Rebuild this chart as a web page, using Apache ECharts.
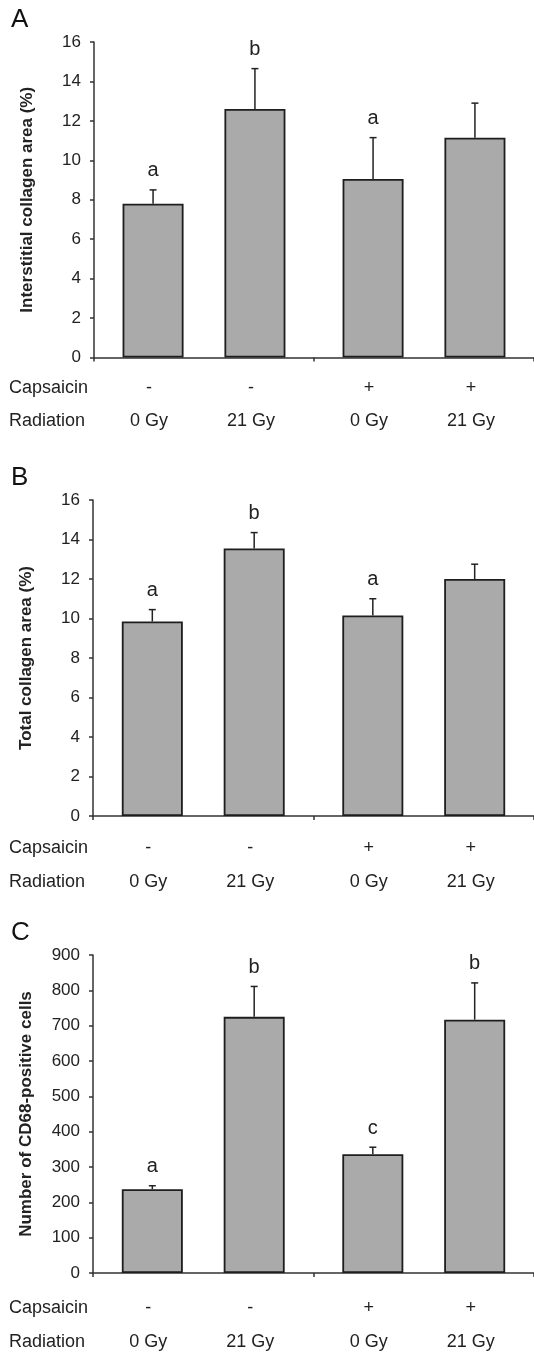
<!DOCTYPE html>
<html>
<head>
<meta charset="UTF-8">
<script src="https://cdn.jsdelivr.net/npm/echarts@6/dist/echarts.min.js"></script>
<style>
  html, body { margin: 0; padding: 0; background: #fff; }
  #chart { width: 534px; height: 1353px; }
</style>
</head>
<body>
<div id="chart"></div>
<script>
    // groups on the x axis (capsaicin) and bars inside each group (radiation)
    let capsaicin = ['-', '-', '+', '+'];
    let radiation = ['0 Gy', '21 Gy', '0 Gy', '21 Gy'];
    let groups = ['-', '+'];

    // A: interstitial collagen area (%)
    let meanA = [7.8, 12.6, 9.05, 11.15];
    let errA = [0.7, 2.05, 2.1, 1.75];
    let letterA = ['a', 'b', 'a', ''];

    // B: total collagen area (%)
    let meanB = [9.85, 13.55, 10.15, 12.0];
    let errB = [0.6, 0.8, 0.85, 0.75];
    let letterB = ['a', 'b', 'a', ''];

    // C: CD68-positive cells
    let meanC = [237, 725, 336, 717];
    let errC = [10, 86, 20, 104];
    let letterC = ['a', 'b', 'c', 'b'];

    let FONT = '"Liberation Sans", Arial, sans-serif';
    let BAR_W = 61;
    let BAR_GAP = 0.67;

    // the plot area runs past the right edge of the picture, as in the source figure
    let panels = [
        { name: 'A', title: 'Interstitial collagen area (%)', mean: meanA, err: errA, letter: letterA,
          max: 16, step: 2, left: 94, top: 42, height: 315.5, rows: [31, 64] },
        { name: 'B', title: 'Total collagen area (%)', mean: meanB, err: errB, letter: letterB,
          max: 16, step: 2, left: 93, top: 500, height: 316, rows: [32, 66] },
        { name: 'C', title: 'Number of CD68-positive cells', mean: meanC, err: errC, letter: letterC,
          max: 900, step: 100, left: 93, top: 955, height: 318, rows: [35, 69] }
    ];

    let grid = [], xAxis = [], yAxis = [], series = [], graphic = [];

    panels.forEach(function (p, k) {
        grid.push({ left: p.left, top: p.top, width: 538 - p.left, height: p.height });

        xAxis.push({
            gridIndex: k,
            type: 'category',
            data: groups,
            axisLine: { lineStyle: { color: '#333', width: 1.5 } },
            axisTick: { show: true, length: 4, lineStyle: { color: '#333', width: 1.5 } },
            axisLabel: { show: false }
        });

        yAxis.push({
            gridIndex: k,
            type: 'value',
            min: 0,
            max: p.max,
            interval: p.step,
            name: p.title,
            nameLocation: 'middle',
            nameGap: 58,
            nameTextStyle: { fontFamily: FONT, fontSize: 17, fontWeight: 'bold', color: '#222' },
            axisLine: { show: true, lineStyle: { color: '#333', width: 1.5 } },
            axisTick: { show: true, length: 4, lineStyle: { color: '#333', width: 1.5 } },
            axisLabel: { fontFamily: FONT, fontSize: 17, color: '#222', margin: 13 },
            splitLine: { show: false }
        });

        // one bar series per radiation dose
        [0, 1].forEach(function (d) {
            series.push({
                type: 'bar',
                xAxisIndex: k,
                yAxisIndex: k,
                barWidth: BAR_W,
                barGap: (BAR_GAP * 100) + '%',
                data: groups.map(function (g, gi) { return p.mean[gi * 2 + d]; }),
                itemStyle: { color: '#aaaaaa', borderColor: '#1e1e1e', borderWidth: 1.8 },
                silent: true
            });
        });

        // error bars, letters and the table under the axis
        let items = p.mean.map(function (m, i) {
            return [Math.floor(i / 2), i % 2, m, p.err[i]];
        });
        series.push({
            type: 'custom',
            xAxisIndex: k,
            yAxisIndex: k,
            data: items,
            z: 5,
            silent: true,
            renderItem: function (params, api) {
                let i = params.dataIndex;
                let g = api.value(0);
                let d = api.value(1);
                let base = api.coord([g, 0]);
                let x = base[0] + (d - 0.5) * BAR_W * (1 + BAR_GAP);
                let yTop = api.coord([g, api.value(2)])[1];
                let yErr = api.coord([g, api.value(2) + api.value(3)])[1];
                let line = { stroke: '#222', lineWidth: 1.5 };
                let lx = x - 4;
                return {
                    type: 'group',
                    children: [
                        { type: 'line', shape: { x1: x, y1: yTop, x2: x, y2: yErr }, style: line },
                        { type: 'line', shape: { x1: x - 3.5, y1: yErr, x2: x + 3.5, y2: yErr }, style: line },
                        { type: 'text', x: x, y: yErr - 19,
                          style: { text: p.letter[i], font: '20px ' + FONT, fill: '#222', align: 'center', verticalAlign: 'middle' } },
                        { type: 'text', x: lx, y: base[1] + p.rows[0],
                          style: { text: capsaicin[i], font: '18px ' + FONT, fill: '#222', align: 'center', verticalAlign: 'middle' } },
                        { type: 'text', x: lx, y: base[1] + p.rows[1],
                          style: { text: radiation[i], font: '18px ' + FONT, fill: '#222', align: 'center', verticalAlign: 'middle' } }
                    ]
                };
            }
        });

        let zero = p.top + p.height;
        graphic.push(
            { type: 'text', left: 11, top: p.top - 35,
              style: { text: p.name, font: '26px ' + FONT, fill: '#111' } },
            { type: 'text', x: 9, y: zero + p.rows[0],
              style: { text: 'Capsaicin', font: '18px ' + FONT, fill: '#222', verticalAlign: 'middle' } },
            { type: 'text', x: 9, y: zero + p.rows[1],
              style: { text: 'Radiation', font: '18px ' + FONT, fill: '#222', verticalAlign: 'middle' } }
        );
    });

    let myChart = echarts.init(document.getElementById('chart'));
    myChart.setOption({
        animation: false,
        grid: grid,
        xAxis: xAxis,
        yAxis: yAxis,
        series: series,
        graphic: graphic
    });
</script>
</body>
</html>
